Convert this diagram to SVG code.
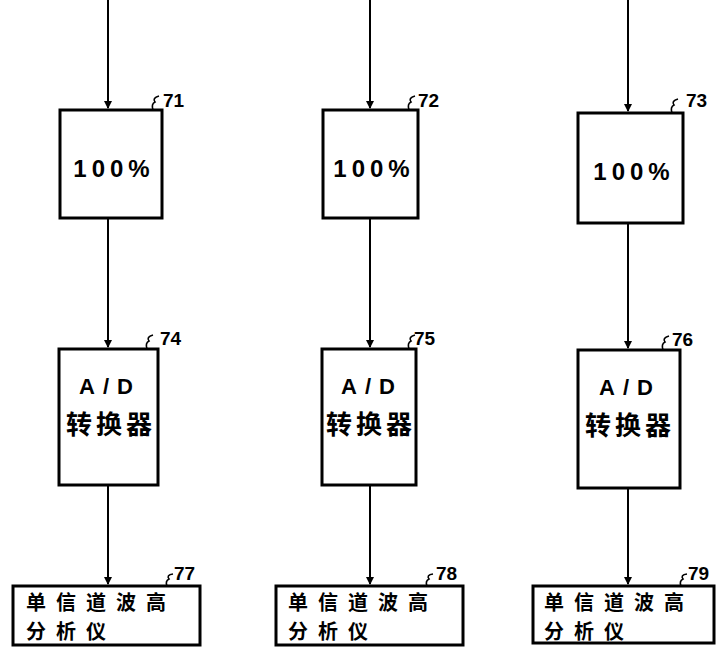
<svg xmlns="http://www.w3.org/2000/svg" width="716" height="655" viewBox="0 0 716 655">
<defs>
<marker id="ah" markerWidth="8" markerHeight="12" refX="7" refY="4" orient="auto" markerUnits="userSpaceOnUse">
<path d="M0,0 L8,4 L0,8 z" fill="#000"/>
</marker>
<style>
.box{fill:#fff;stroke:#000;stroke-width:3}
.ln{stroke:#000;stroke-width:2;fill:none}
.hk{stroke:#000;stroke-width:1.6;fill:none}
.t{font-family:"Liberation Sans","Noto Sans CJK SC",sans-serif;fill:#000;text-anchor:middle}
.p{font-size:24px;font-weight:bold;letter-spacing:5px}
.ad{font-size:22px;font-weight:bold;letter-spacing:8px}
.cn{font-family:"Noto Sans CJK SC",sans-serif;font-size:26px;font-weight:bold;fill:#000;text-anchor:middle;letter-spacing:4px}
.cb{font-family:"Noto Sans CJK SC",sans-serif;font-size:20px;font-weight:bold;fill:#000;letter-spacing:10px}
.lb{font-family:"Liberation Sans",sans-serif;font-size:19px;font-weight:bold;fill:#000}
</style>
</defs>
<g id="connectors">
<line class="ln" x1="108" y1="0" x2="108" y2="108" marker-end="url(#ah)"/>
<line class="ln" x1="108" y1="218" x2="108" y2="347" marker-end="url(#ah)"/>
<line class="ln" x1="108" y1="485" x2="108" y2="584" marker-end="url(#ah)"/>
<line class="ln" x1="370" y1="0" x2="370" y2="108" marker-end="url(#ah)"/>
<line class="ln" x1="370" y1="218" x2="370" y2="347" marker-end="url(#ah)"/>
<line class="ln" x1="370" y1="485" x2="370" y2="584" marker-end="url(#ah)"/>
<line class="ln" x1="628" y1="0" x2="628" y2="111" marker-end="url(#ah)"/>
<line class="ln" x1="628" y1="223" x2="628" y2="348" marker-end="url(#ah)"/>
<line class="ln" x1="628" y1="488" x2="628" y2="584" marker-end="url(#ah)"/>
</g>
<g id="n71">
<rect class="box" x="60" y="110" width="102" height="108"/>
<text class="t p" x="114" y="177">100%</text>
<path class="hk" d="M153,110 q-2,-6 2,-8 q-3,-4 4,-6"/>
<text class="lb" x="163" y="107">71</text>
</g>
<g id="n72">
<rect class="box" x="323" y="110" width="95" height="108"/>
<text class="t p" x="374" y="177">100%</text>
<path class="hk" d="M409,110 q-2,-6 2,-8 q-3,-4 4,-6"/>
<text class="lb" x="418" y="107">72</text>
</g>
<g id="n73">
<rect class="box" x="578" y="113" width="105" height="110"/>
<text class="t p" x="634" y="180">100%</text>
<path class="hk" d="M672,113 q-2,-6 2,-8 q-3,-4 4,-6"/>
<text class="lb" x="686" y="107">73</text>
</g>
<g id="n74">
<rect class="box" x="59" y="349" width="99" height="136"/>
<text class="t ad" x="110" y="394">A/D</text>
<text class="cn" x="111" y="434">转换器</text>
<path class="hk" d="M147,349 q-2,-6 2,-8 q-3,-4 4,-6"/>
<text class="lb" x="160" y="345">74</text>
</g>
<g id="n75">
<rect class="box" x="322" y="349" width="94" height="136"/>
<text class="t ad" x="372" y="394">A/D</text>
<text class="cn" x="371" y="434">转换器</text>
<path class="hk" d="M409,349 q-2,-6 2,-8 q-3,-4 4,-6"/>
<text class="lb" x="414" y="345">75</text>
</g>
<g id="n76">
<rect class="box" x="578" y="350" width="102" height="138"/>
<text class="t ad" x="630" y="395">A/D</text>
<text class="cn" x="630" y="435">转换器</text>
<path class="hk" d="M663,350 q-2,-6 2,-8 q-3,-4 4,-6"/>
<text class="lb" x="672" y="346">76</text>
</g>
<g id="n77">
<rect class="box" x="13" y="586" width="187" height="59"/>
<text class="cb" x="26" y="610">单信道波高</text>
<text class="cb" x="26" y="639">分析仪</text>
<path class="hk" d="M167,586 q-2,-5 2,-7 q-3,-4 4,-5"/>
<text class="lb" x="174" y="580">77</text>
</g>
<g id="n78">
<rect class="box" x="276" y="586" width="187" height="59"/>
<text class="cb" x="288" y="610">单信道波高</text>
<text class="cb" x="288" y="639">分析仪</text>
<path class="hk" d="M427,586 q-2,-5 2,-7 q-3,-4 4,-5"/>
<text class="lb" x="436" y="580">78</text>
</g>
<g id="n79">
<rect class="box" x="533" y="586" width="181" height="57"/>
<text class="cb" x="544" y="610">单信道波高</text>
<text class="cb" x="544" y="639">分析仪</text>
<path class="hk" d="M681,586 q-2,-5 2,-7 q-3,-4 4,-5"/>
<text class="lb" x="688" y="580">79</text>
</g>
</svg>
